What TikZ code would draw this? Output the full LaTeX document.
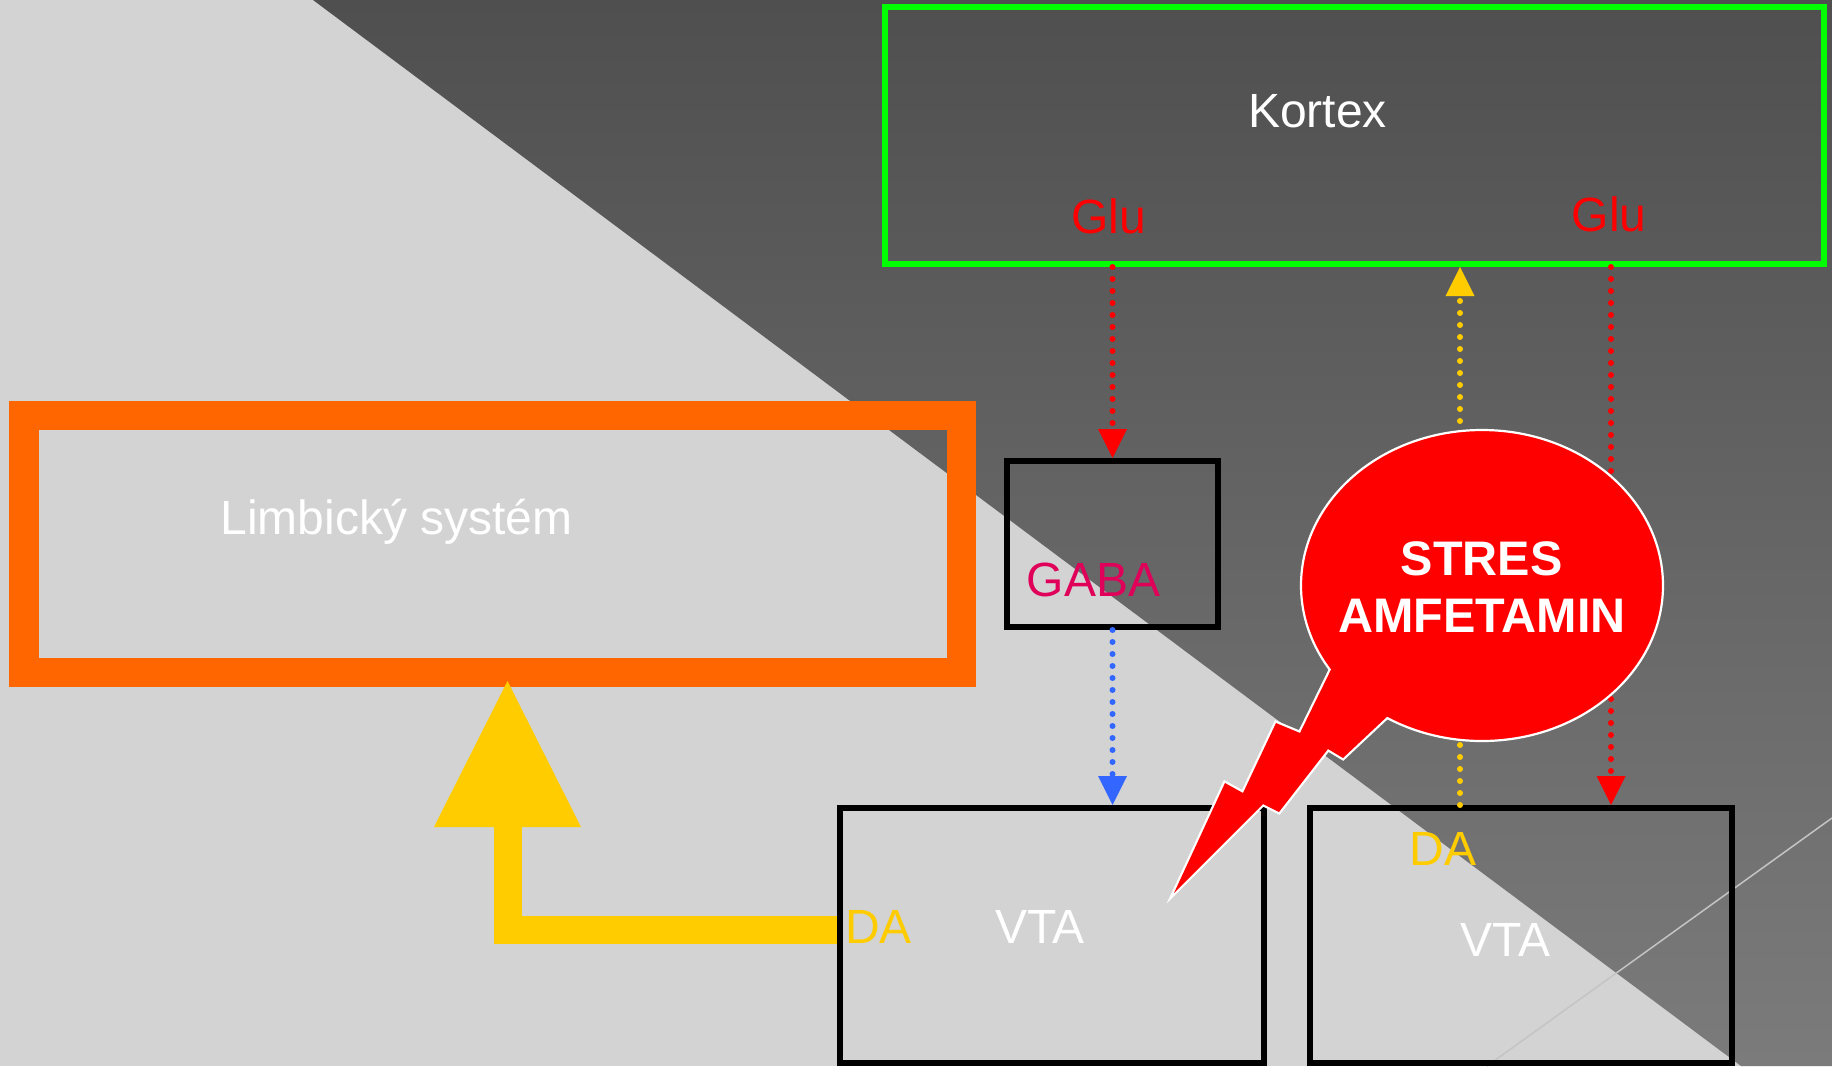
\documentclass[tikz,border=0pt]{standalone}
\usepackage{fontspec}
\setmainfont{Liberation Sans}
\usetikzlibrary{arrows.meta,shapes.geometric}
\definecolor{bglight}{HTML}{D3D3D3}
\definecolor{darkA}{HTML}{4F4F4F}
\definecolor{darkB}{HTML}{7B7B7B}
\definecolor{thinln}{HTML}{C4C4C4}
\definecolor{orangeC}{HTML}{FF6600}
\definecolor{greenC}{HTML}{00FF00}
\definecolor{yellowC}{HTML}{FFCC00}
\definecolor{blueC}{HTML}{3366FF}
\definecolor{gabaC}{HTML}{E0005A}
\definecolor{redC}{HTML}{FF0000}
\begin{document}
\begin{tikzpicture}[x=1pt,y=-1pt,
  txt/.style={anchor=base, inner sep=0pt, font=\fontsize{48}{57}\selectfont},
  boldtxt/.style={anchor=base, inner sep=0pt, font=\fontsize{48.5}{57}\selectfont\bfseries, text=white},
  frame/.style={rectangle, draw=black, line width=6pt, inner sep=0pt},
  dotline/.style={line width=6pt, line cap=round, dash pattern=on 0pt off 12pt},
  smalltip/.style={-{Triangle[width=29pt,length=29pt,line width=0pt]}}
]
\useasboundingbox (0,0) rectangle (1832,1066);
% background
\fill[bglight] (0,0) rectangle (1832,1066);
\shade[top color=darkA, bottom color=darkB] (313,0) -- (1832,0) -- (1832,1066) -- (1741,1066) -- cycle;
\draw[thinln, line width=1.5pt] (1832,818) -- (1487,1066);

% boxes
\node[rectangle, draw=orangeC, line width=29.5pt, inner sep=0pt,
      minimum width=937.5pt, minimum height=257pt] (limb) at (492.75,544) {};
\node[rectangle, draw=greenC, line width=6pt, inner sep=0pt,
      minimum width=939pt, minimum height=257pt] (kortex) at (1354.5,135.5) {};
\node[frame, minimum width=211pt, minimum height=166pt] (gaba) at (1112.5,544) {};
\node[frame, minimum width=424pt, minimum height=255pt] (vta1) at (1052,935.5) {};
\node[frame, minimum width=422pt, minimum height=255pt] (vta2) at (1521,935.5) {};

% big yellow arrow
\draw[yellowC, line width=28pt, line join=miter] ([yshift=6pt]vta1.west) -| (507.5,827);
\fill[yellowC] (434,827) -- (581,827) -- (507.5,681) -- cycle;

% dotted connectors
\coordinate (ya) at (1460,808);
\coordinate (ra) at (1611,808);
\draw[dotline, smalltip, redC] (gaba.north |- kortex.south) -- (gaba.north);
\draw[dotline, smalltip, blueC] (gaba.south) -- (gaba.south |- vta1.north);
\draw[dotline, smalltip, yellowC] (ya |- vta2.north) -- (ya |- kortex.south);
\draw[dotline, smalltip, redC] (ra |- kortex.south) -- (ra |- vta2.north);

% lightning bolt + ellipse
\filldraw[fill=redC, draw=white, line width=4.5pt, line join=miter]
  (1380,640) -- (1345,641) -- (1300,733) -- (1276,723) -- (1243,793) -- (1225,783)
  -- (1174,893) -- (1263,804) -- (1279,812) -- (1328,749) -- (1343,758) -- (1408,697) -- cycle;
\node[ellipse, fill=redC, draw=white, line width=2.2pt, inner sep=0pt,
      minimum width=362pt, minimum height=311pt] (stres) at (1482,585.5) {};
\fill[redC]
  (1380,640) -- (1345,641) -- (1300,733) -- (1276,723) -- (1243,793) -- (1225,783)
  -- (1174,893) -- (1263,804) -- (1279,812) -- (1328,749) -- (1343,758) -- (1408,697) -- cycle;

% texts
\node[txt, text=white] (tkortex) at (1317.5,127) {Kortex};
\node[txt, text=redC] (tglu1) at (1108.5,233) {Glu};
\node[txt, text=redC] (tglu2) at (1609,231) {Glu};
\node[txt, text=gabaC] (tgaba) at (1093.5,596) {GABA};
\node[txt, text=white] (tlimb) at (396.5,534) {Limbický systém};
\node[txt, text=yellowC] (tda1) at (878.5,943) {DA};
\node[txt, text=white] (tvta1) at (1040,943) {VTA};
\node[txt, text=yellowC] (tda2) at (1443,865) {DA};
\node[txt, text=white] (tvta2) at (1505.5,956) {VTA};
\node[boldtxt] (tstres) at (1481.5,575) {STRES};
\node[boldtxt] (tamf) at (1482,632) {AMFETAMIN};
\end{tikzpicture}
\end{document}
